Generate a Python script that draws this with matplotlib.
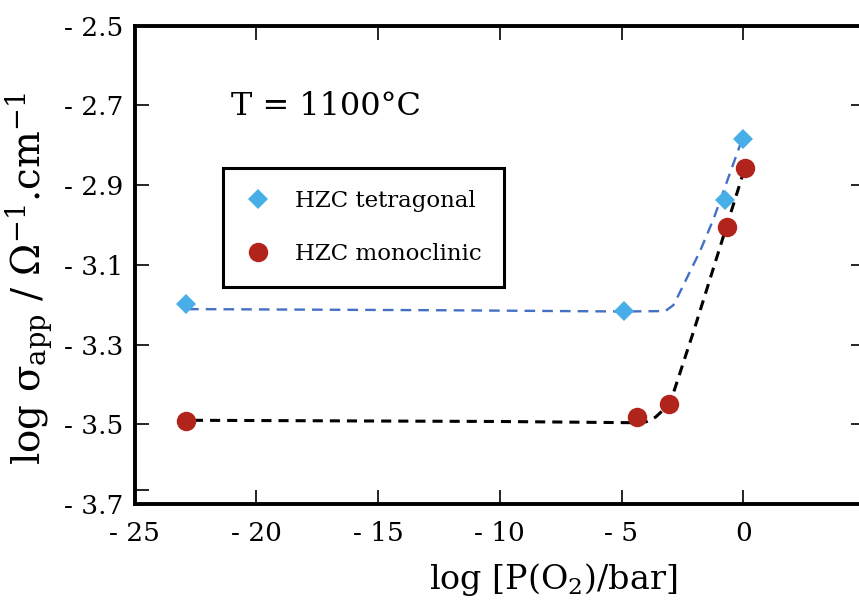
import matplotlib
matplotlib.use("Agg")
import matplotlib.pyplot as plt
from matplotlib.lines import Line2D

# ---- data ----
tet_x = [-22.9, -4.9, -0.74, 0.0]
tet_y = [-3.197, -3.216, -2.937, -2.785]
mono_x = [-22.9, -4.37, -3.04, -0.67, 0.07]
mono_y = [-3.492, -3.482, -3.449, -3.005, -2.858]

tet_fit_x = [-22.8, -12.0, -5.0, -3.2, -2.87, -2.66, -1.77, -1.22, 0.0]
tet_fit_y = [-3.211, -3.214, -3.217, -3.216, -3.201, -3.176, -3.065, -2.985, -2.777]
mono_fit_x = [-22.6, -10.0, -4.6, -4.0, -3.6, -3.3, -3.0, -2.04, 0.05]
mono_fit_y = [-3.490, -3.493, -3.496, -3.494, -3.482, -3.465, -3.446, -3.267, -2.860]

xticks = [-25, -20, -15, -10, -5, 0]
xticklabels = ["- 25", "- 20", "- 15", "- 10", "- 5", "0"]
yticks = [-2.5, -2.7, -2.9, -3.1, -3.3, -3.5, -3.7]
yticklabels = ["- 2.5", "- 2.7", "- 2.9", "- 3.1", "- 3.3", "- 3.5", "- 3.7"]
left_extra_tick = [-3.665]

labels = ["HZC tetragonal", "HZC monoclinic"]
annotation = "T = 1100°C"

plt.rcParams['font.family'] = ['DejaVu Serif']
plt.rcParams['mathtext.fontset'] = 'dejavuserif'

W, H = 859, 603
fig = plt.figure(figsize=(W / 100, H / 100), dpi=100)
ax = fig.add_axes([134.5 / W, 1 - 504 / H, (865 - 134.5) / W, (504 - 25.7) / H])

blue_marker = '#47AEE8'
red_marker = '#B1241B'
blue_line = '#4470C4'

ax.plot(tet_fit_x, tet_fit_y, color=blue_line, lw=1.7, linestyle=(0, (4.5, 3.0)), zorder=2)
ax.plot(mono_fit_x, mono_fit_y, color='black', lw=2.2, linestyle=(0, (3.3, 2.3)), zorder=2)
ax.plot(tet_x, tet_y, linestyle='none', marker='D', ms=10, color=blue_marker,
        markeredgewidth=0, zorder=3)
ax.plot(mono_x, mono_y, linestyle='none', marker='o', ms=14, color=red_marker,
        markeredgewidth=0, zorder=3)

ax.set_xlim(-25, 5)
ax.set_ylim(-3.7, -2.5)
ax.set_xticks(xticks)
ax.set_xticklabels(xticklabels)
ax.set_yticks(yticks)
ax.set_yticklabels(yticklabels)
ax.set_yticks(left_extra_tick, minor=True)

for s in ax.spines.values():
    s.set_linewidth(2.8)

ax.tick_params(axis='both', which='major', direction='in', length=10, width=1.2,
               top=True, right=True, labelsize=19)
ax.tick_params(axis='y', which='minor', direction='in', length=10, width=1.2,
               left=True, right=False, labelleft=False)
ax.tick_params(axis='x', pad=12)
ax.tick_params(axis='y', which='major', pad=8)

ax.text(0.132, 0.8133, annotation, transform=ax.transAxes, fontsize=23,
        ha='left', va='baseline')

handles = [
    Line2D([], [], linestyle='none', marker='D', ms=10, color=blue_marker, markeredgewidth=0),
    Line2D([], [], linestyle='none', marker='o', ms=14, color=red_marker, markeredgewidth=0),
]
leg = ax.legend(handles, labels, loc='upper left', bbox_to_anchor=(0.121, 0.7025),
                borderaxespad=0, fontsize=16.5, frameon=True, fancybox=False,
                borderpad=0.98, handlelength=1.1, handletextpad=1.05, labelspacing=1.33)
leg.get_frame().set_edgecolor('black')
leg.get_frame().set_linewidth(2.2)
leg.get_frame().set_alpha(1)

fig.text(553 / W, 1 - 580 / H, 'log [P(O$_2$)/bar]', fontsize=24, ha='center', va='center')
fig.text(30 / W, 1 - 278 / H,
         'log σ$_{\\mathrm{app}}$ / Ω$^{\\mathrm{-1}}$.cm$^{\\mathrm{-1}}$',
         fontsize=28, rotation=90, ha='center', va='center')

fig.savefig('out.png', dpi=100)
